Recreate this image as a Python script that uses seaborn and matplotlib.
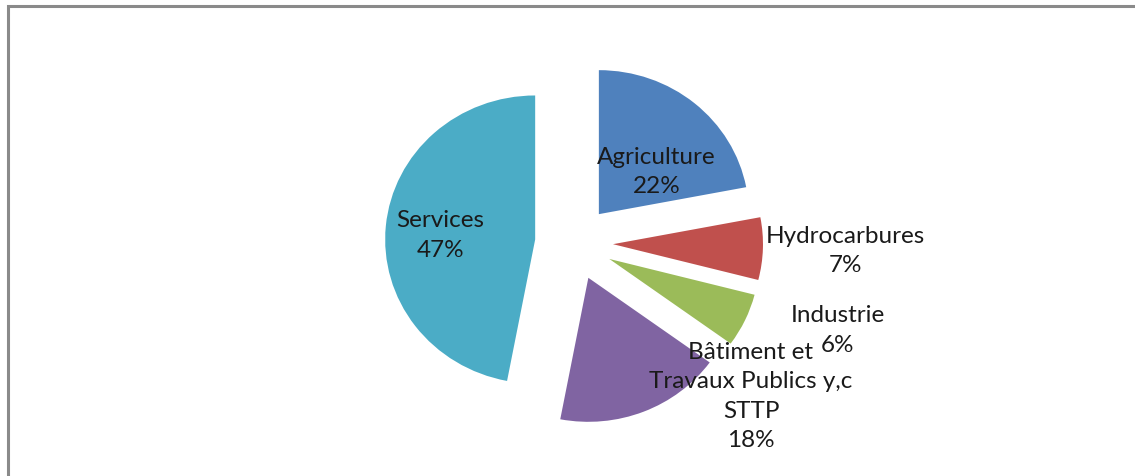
import seaborn as sns
import matplotlib.pyplot as plt
from matplotlib.patches import Rectangle

# --- data ---
sectors = ["Agriculture", "Hydrocarbures", "Industrie",
           "Bâtiment et\nTravaux Publics y,c\nSTTP", "Services"]
shares = [22, 7, 6, 18, 47]
colors = ["#4F81BD", "#C0504D", "#9BBB59", "#8064A2", "#4BACC6"]

# label anchor points (pie units, centre = 0,0)
label_pos = [(0.55, 0.50), (1.81, -0.05), (1.76, -0.60), (1.18, -1.06), (-0.89, 0.06)]

sns.set_theme(style="white")
plt.rcParams["font.family"] = ["Lato", "DejaVu Sans"]

W, H, dpi = 1135, 477, 100
fig = plt.figure(figsize=(W / dpi, H / dpi), dpi=dpi)
ax = fig.add_axes([0, 0, 1, 1])

cx, cy, sx, sy = 574, 244, 150, 144
ax.pie(shares, colors=sns.color_palette(colors), startangle=90, counterclock=False,
       explode=[0.26] * len(shares), radius=1,
       wedgeprops=dict(linewidth=0))
ax.set_aspect("auto")
ax.set_xlim(-cx / sx, (W - cx) / sx)
ax.set_ylim((cy - H) / sy, cy / sy)
ax.axis("off")

for name, val, (lx, ly) in zip(sectors, shares, label_pos):
    ax.text(lx, ly, f"{name}\n{val}%", ha="center", va="center",
            fontsize=17.5, color="#1a1a1a", linespacing=1.5)

# grey outer frame (cut off on the right and bottom)
fig.patches.append(Rectangle((7.5 / W, -0.1), 1.2, 1.1 - 6.5 / H,
                             transform=fig.transFigure, fill=False,
                             edgecolor="#8a8a8a", linewidth=2.2))

plt.savefig("out.png", dpi=dpi)
